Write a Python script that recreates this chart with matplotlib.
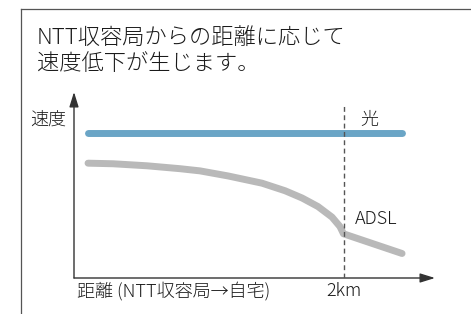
import numpy as np
import matplotlib
matplotlib.use("Agg")
import matplotlib.pyplot as plt
from matplotlib.lines import Line2D

plt.rcParams['font.family'] = ['Noto Sans CJK JP', 'DejaVu Sans']
plt.rcParams['font.weight'] = 'light'

W, H = 471, 314

# ---- data (distance in km, speed in arbitrary units) ----
title_lines = ["NTT収容局からの距離に応じて", "速度低下が生じます。"]
hikari_km = [0.10, 2.43]
hikari_speed = [100, 100]
adsl_km = [0.104, 0.289, 0.541, 0.785, 0.933, 1.141, 1.393, 1.563, 1.689,
           1.807, 1.911, 1.970, 1.996, 2.430]
adsl_speed = [79.2, 78.8, 77.4, 75.4, 73.9, 70.4, 65.4, 60.2, 55.2,
              49.3, 42.0, 35.5, 30.5, 16.9]
limit_km = 2.0
limit_top = 119
x_max, y_max = 2.674, 128.3
xlabel = "距離 (NTT収容局→自宅)"
ylabel = "速度"


def px(x, y):
    # pixel position -> figure fraction
    return x / W, 1 - y / H


fig = plt.figure(figsize=(W / 100, H / 100), dpi=100)
fig.patch.set_facecolor('white')

# outer frame (cropped box)
fig.add_artist(Line2D([21 / W, 21 / W], [0, 1 - 9 / H], transform=fig.transFigure,
                      color='#555555', lw=0.9))
fig.add_artist(Line2D([21 / W, 1], [1 - 9 / H, 1 - 9 / H], transform=fig.transFigure,
                      color='#555555', lw=0.9))

# title
fig.text(*px(37, 38), title_lines[0], fontsize=16, color='#1a1a1a', va='center', ha='left')
fig.text(*px(37, 64), title_lines[1], fontsize=16, color='#1a1a1a', va='center', ha='left')

# chart area
l, b = px(74, 278)
ax = fig.add_axes([l, b, (435 - 74) / W, (278 - 92) / H])
ax.set_xlim(0, x_max)
ax.set_ylim(0, y_max)
for s in ax.spines.values():
    s.set_visible(False)
ax.set_yticks([])
ax.set_xticks([limit_km])
ax.set_xticklabels(["2km"], fontsize=13, color='#1a1a1a')
ax.tick_params(axis='x', length=0, pad=3)
ax.patch.set_alpha(0)

# axis arrows
arrow = dict(arrowstyle='-|>,head_length=0.9,head_width=0.28', color='#333333',
             lw=1.0, shrinkA=0, shrinkB=0, mutation_scale=10)
ax.annotate('', xy=(1, 0), xytext=(0, 0), xycoords='axes fraction', arrowprops=arrow)
ax.annotate('', xy=(0, 1), xytext=(0, 0), xycoords='axes fraction', arrowprops=arrow)

# 2km dashed line
ax.plot([limit_km, limit_km], [0, limit_top], color='#555555', lw=1.0,
        dashes=(3.5, 2.5), zorder=4)

ax.plot(hikari_km, hikari_speed, color='#6aa5c6', lw=5, solid_capstyle='round', zorder=3)
ax.plot(adsl_km, adsl_speed, color='#b9b9b9', lw=5, solid_capstyle='round',
        solid_joinstyle='round', zorder=3)

ax.text(2.12, 109, "光", fontsize=13, color='#1a1a1a', va='center', ha='left')
ax.text(2.08, 41, "ADSL", fontsize=13, color='#1a1a1a', va='center', ha='left')

fig.text(*px(30, 120), ylabel, fontsize=13, color='#1a1a1a', va='center', ha='left')
fig.text(*px(77, 291), xlabel, fontsize=13, color='#1a1a1a', va='center', ha='left')

fig.savefig("out.png", dpi=100)
